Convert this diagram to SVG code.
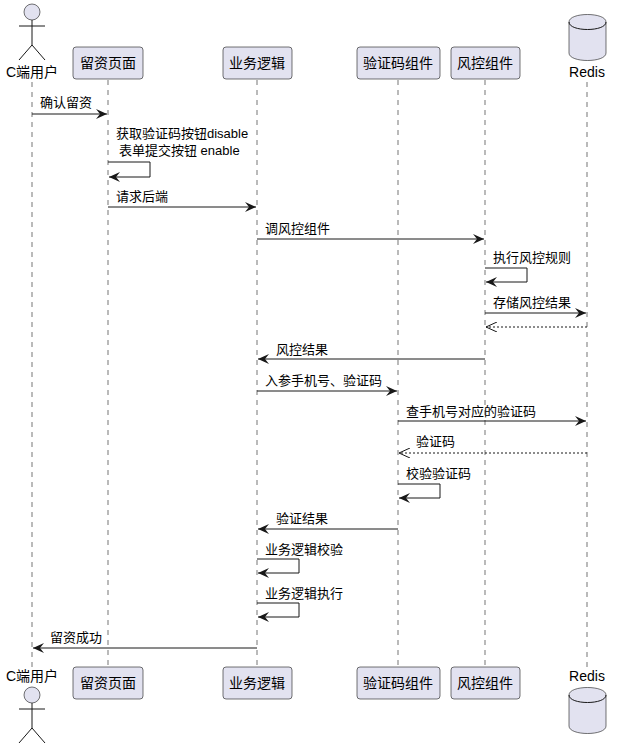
<svg xmlns="http://www.w3.org/2000/svg" width="617" height="746" viewBox="0 0 617 746">
<style>
.t{font-family:"Liberation Sans","Noto Sans CJK SC",sans-serif;font-size:13px;fill:#000}
.p{font-family:"Liberation Sans","Noto Sans CJK SC",sans-serif;font-size:14px;fill:#000}
.box{fill:#E2E2F0;stroke:#181818;stroke-width:0.6}
.ll{stroke:#181818;stroke-width:0.6;stroke-dasharray:5,5}
.m{stroke:#181818;stroke-width:1;fill:none}
.d{stroke:#181818;stroke-width:1;fill:none;stroke-dasharray:2,2}
</style>
<defs>
<marker id="a" markerWidth="12" markerHeight="10" refX="11" refY="5" orient="auto" markerUnits="userSpaceOnUse"><path d="M0,0 L11,5 L0,10 L4,5 Z" fill="#181818"/></marker>
<marker id="o" markerWidth="12" markerHeight="10" refX="11" refY="5" orient="auto" markerUnits="userSpaceOnUse"><path d="M0,0 L11,5 L0,10" fill="none" stroke="#181818"/></marker>
</defs>
<g id="lifelines">
<line class="ll" x1="32" y1="82" x2="32" y2="667"/>
<line class="ll" x1="108" y1="80" x2="108" y2="667"/>
<line class="ll" x1="257" y1="80" x2="257" y2="667"/>
<line class="ll" x1="398" y1="80" x2="398" y2="667"/>
<line class="ll" x1="485" y1="80" x2="485" y2="667"/>
<line class="ll" x1="587" y1="82" x2="587" y2="667"/>
</g>
<g id="user">
<circle cx="32" cy="12" r="8" class="box"/>
<path d="M32,20 V45 M19,26 H45 M19,60 L32,45 L45,60" class="m" stroke-width="0.6"/>
<text class="p" x="32" y="77" text-anchor="middle">C端用户</text>
<text class="p" x="32" y="681" text-anchor="middle">C端用户</text>
<circle cx="32" cy="695" r="8" class="box"/>
<path d="M32,703 V728 M19,709 H45 M19,743 L32,728 L45,743" class="m" stroke-width="0.6"/>
</g>
<g id="page">
<rect class="box" x="73" y="47" width="70" height="32" rx="3"/><text class="p" x="108" y="68" text-anchor="middle">留资页面</text>
<rect class="box" x="73" y="667" width="70" height="32" rx="3"/><text class="p" x="108" y="688" text-anchor="middle">留资页面</text>
</g>
<g id="logic">
<rect class="box" x="223" y="47" width="69" height="32" rx="3"/><text class="p" x="257" y="68" text-anchor="middle">业务逻辑</text>
<rect class="box" x="223" y="667" width="69" height="32" rx="3"/><text class="p" x="257" y="688" text-anchor="middle">业务逻辑</text>
</g>
<g id="captcha">
<rect class="box" x="357" y="47" width="83" height="32" rx="3"/><text class="p" x="398" y="68" text-anchor="middle">验证码组件</text>
<rect class="box" x="357" y="667" width="83" height="32" rx="3"/><text class="p" x="398" y="688" text-anchor="middle">验证码组件</text>
</g>
<g id="risk">
<rect class="box" x="451" y="47" width="69" height="32" rx="3"/><text class="p" x="485" y="68" text-anchor="middle">风控组件</text>
<rect class="box" x="451" y="667" width="69" height="32" rx="3"/><text class="p" x="485" y="688" text-anchor="middle">风控组件</text>
</g>
<g id="redis">
<path class="box" d="M569,22 C569,12 606,12 606,22 V53 C606,63 569,63 569,53 Z"/>
<path class="m" stroke-width="0.6" d="M569,22 C569,32 606,32 606,22"/>
<text class="p" x="587" y="77" text-anchor="middle">Redis</text>
<text class="p" x="587" y="681" text-anchor="middle">Redis</text>
<path class="box" d="M569,695 C569,685 606,685 606,695 V726 C606,736 569,736 569,726 Z"/>
<path class="m" stroke-width="0.6" d="M569,695 C569,705 606,705 606,695"/>
</g>
<g id="connectors">
<line class="m" x1="32" y1="114" x2="107" y2="114" marker-end="url(#a)"/>
<text class="t" x="40" y="107">确认留资</text>
<text class="t" x="116" y="138">获取验证码按钮disable</text>
<text class="t" x="119" y="155">表单提交按钮 enable</text>
<path class="m" d="M108,162 H150 V177 H109" marker-end="url(#a)"/>
<line class="m" x1="108" y1="207" x2="256" y2="207" marker-end="url(#a)"/>
<text class="t" x="116" y="201">请求后端</text>
<line class="m" x1="257" y1="239" x2="484" y2="239" marker-end="url(#a)"/>
<text class="t" x="265" y="233">调风控组件</text>
<path class="m" d="M485,268 H527 V282 H486" marker-end="url(#a)"/>
<text class="t" x="493" y="262">执行风控规则</text>
<line class="m" x1="485" y1="313" x2="586" y2="313" marker-end="url(#a)"/>
<text class="t" x="493" y="307">存储风控结果</text>
<line class="d" x1="587" y1="327" x2="486" y2="327" marker-end="url(#o)"/>
<line class="m" x1="485" y1="359" x2="258" y2="359" marker-end="url(#a)"/>
<text class="t" x="276" y="354">风控结果</text>
<line class="m" x1="257" y1="391" x2="397" y2="391" marker-end="url(#a)"/>
<text class="t" x="265" y="385">入参手机号、验证码</text>
<line class="m" x1="398" y1="421" x2="586" y2="421" marker-end="url(#a)"/>
<text class="t" x="406" y="416">查手机号对应的验证码</text>
<line class="d" x1="587" y1="453" x2="399" y2="453" marker-end="url(#o)"/>
<text class="t" x="416" y="446">验证码</text>
<path class="m" d="M398,484 H440 V498 H399" marker-end="url(#a)"/>
<text class="t" x="406" y="478">校验验证码</text>
<line class="m" x1="398" y1="529" x2="258" y2="529" marker-end="url(#a)"/>
<text class="t" x="276" y="523">验证结果</text>
<path class="m" d="M257,559 H299 V573 H258" marker-end="url(#a)"/>
<text class="t" x="265" y="554">业务逻辑校验</text>
<path class="m" d="M257,603 H299 V617 H258" marker-end="url(#a)"/>
<text class="t" x="265" y="598">业务逻辑执行</text>
<line class="m" x1="257" y1="648" x2="33" y2="648" marker-end="url(#a)"/>
<text class="t" x="50" y="642">留资成功</text>
</g>
</svg>
